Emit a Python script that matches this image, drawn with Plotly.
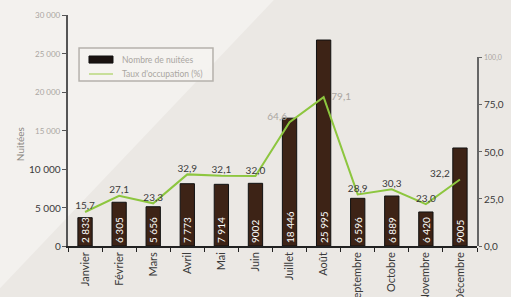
import plotly.graph_objects as go

months = ["Janvier", "Février", "Mars", "Avril", "Mai", "Juin", "Juillet",
          "Août", "Septembre", "Octobre", "Novembre", "Décembre"]
# bar heights as drawn in the picture
nuitees = [3680, 5680, 5100, 8090, 8010, 8140, 16600, 26750, 6190, 6490, 4420, 12730]
nuitees_labels = ["2 833", "6 305", "5 656", "7 773", "7 914", "9002", "18 446",
                  "25 995", "6 596", "6 889", "6 420", "9005"]
# line values as drawn
taux = [18.0, 26.6, 22.6, 37.9, 37.2, 37.0, 65.5, 78.8, 27.3, 30.0, 22.2, 35.2]
taux_labels = ["15,7", "27,1", "23,3", "32,9", "32,1", "32,0", "64,6", "79,1",
               "28,9", "30,3", "23,0", "32,2"]

left_ticks = [0, 5000, 10000, 15000, 20000, 25000, 30000]
left_tick_labels = ["0", "5 000", "10 000", "15 000", "20 000", "25 000", "30 000"]
right_ticks = [0, 25, 50, 75, 100]
right_tick_labels = ["0,0", "25,0", "50,0", "75,0", "100,0"]
series_names = ["Nombre de nuitées", "Taux d'occupation (%)"]

DARK = "#3a3a3a"
FADED = "#aaa6a1"
FONT = "Lato"
NB = "\u00a0"
BAR_COLOR = "#3d2316"
LINE_COLOR = "#8dc63f"

fig = go.Figure()
fig.add_trace(go.Bar(
    x=months, y=nuitees, name=series_names[0],
    marker=dict(color=BAR_COLOR, line=dict(color="#111111", width=1)),
    width=0.42,
    text=nuitees_labels, textposition="inside", insidetextanchor="start",
    textangle=-90, textfont=dict(color="white", size=10, family=FONT),
    cliponaxis=False,
))
pos = ["top center"] * 12
pos[6] = "top left"
pos[7] = "middle right"
pos[11] = "top left"
shown = list(taux_labels)
shown[6] = shown[6] + NB
shown[7] = NB * 3 + shown[7]
shown[11] = shown[11] + NB * 4
tcol = [DARK] * 12
tcol[6] = FADED
tcol[7] = FADED
fig.add_trace(go.Scatter(
    x=months, y=taux, name=series_names[1], yaxis="y2",
    mode="lines+text", line=dict(color=LINE_COLOR, width=2),
    text=shown, textposition=pos,
    textfont=dict(color=tcol, size=10, family=FONT),
    cliponaxis=False,
))

ann = []
for v, t in zip(left_ticks, left_tick_labels):
    ann.append(dict(x=0, xref="paper", y=v, yref="y", text=t, showarrow=False,
                    xanchor="right", xshift=-5,
                    font=dict(size=10 if v < 15000 else 8, family=FONT,
                              color=FADED if v >= 15000 else DARK)))
for v, t in zip(right_ticks, right_tick_labels):
    ann.append(dict(x=1, xref="paper", y=v, yref="y2", text=t, showarrow=False,
                    xanchor="left", xshift=5,
                    font=dict(size=10 if v < 100 else 7, family=FONT,
                              color=FADED if v >= 100 else DARK)))
ann.append(dict(x=-0.135, xref="paper", y=0.44, yref="paper", text="Nuitées",
                showarrow=False, textangle=-90,
                font=dict(size=10, family=FONT, color="#8e8a85")))
# legend texts
for name, ly in zip(series_names, [0.807, 0.745]):
    ann.append(dict(x=0.127, xref="paper", y=ly, yref="paper", text=name,
                    showarrow=False, xanchor="left", yanchor="middle",
                    font=dict(size=8.5, family=FONT, color=FADED)))

shapes = [
    dict(type="path", xref="paper", yref="paper", layer="below",
         path="M -0.17 1.07 L 0.506 1.07 L -0.17 -0.19 Z",
         fillcolor="#f3f1ee", line=dict(width=0)),
    # legend box and symbols
    dict(type="rect", xref="paper", yref="paper", x0=0.027, x1=0.3545, y0=0.714, y1=0.857,
         fillcolor="rgba(245,243,240,0.9)", line=dict(color="#b5b1ac", width=1.5)),
    dict(type="rect", xref="paper", yref="paper", x0=0.0513, x1=0.110, y0=0.792, y1=0.8225,
         fillcolor="#1a1210", line=dict(color="#111111", width=1)),
    dict(type="line", xref="paper", yref="paper", x0=0.0513, x1=0.110, y0=0.7446, y1=0.7446,
         line=dict(color="#c8df9a", width=2)),
]

fig.update_layout(
    width=511, height=297,
    margin=dict(l=68, r=34, t=15, b=51, autoexpand=False),
    paper_bgcolor="#ebe8e4", plot_bgcolor="rgba(0,0,0,0)",
    font=dict(family=FONT, size=10, color=DARK),
    showlegend=False,
    uniformtext=dict(minsize=10, mode="show"),
    xaxis=dict(type="category", range=[-0.5, 11.5], showgrid=False, automargin=False,
               showline=True, linecolor="#222222", linewidth=1.5,
               ticks="outside", tickson="boundaries", ticklen=4, tickcolor="#222222",
               tickangle=-90, tickfont=dict(size=11, family=FONT, color=DARK)),
    yaxis=dict(range=[0, 30000], tickvals=left_ticks, showticklabels=False,
               showgrid=False, zeroline=False, showline=True, automargin=False,
               linecolor="#555555", linewidth=1.5,
               ticks="outside", ticklen=4, tickcolor="#555555"),
    yaxis2=dict(range=[0, 100], domain=[0, 0.818], anchor="x", side="right",
                tickvals=right_ticks, showticklabels=False, automargin=False,
                showgrid=False, zeroline=False, showline=True,
                linecolor="#666666", linewidth=1.5,
                ticks="outside", ticklen=3, tickcolor="#666666"),
    annotations=ann, shapes=shapes, bargap=0.5,
)
fig.write_html("out.html", config={"displayModeBar": False},
               post_script="document.body.style.margin='0';document.body.style.overflow='hidden';")
